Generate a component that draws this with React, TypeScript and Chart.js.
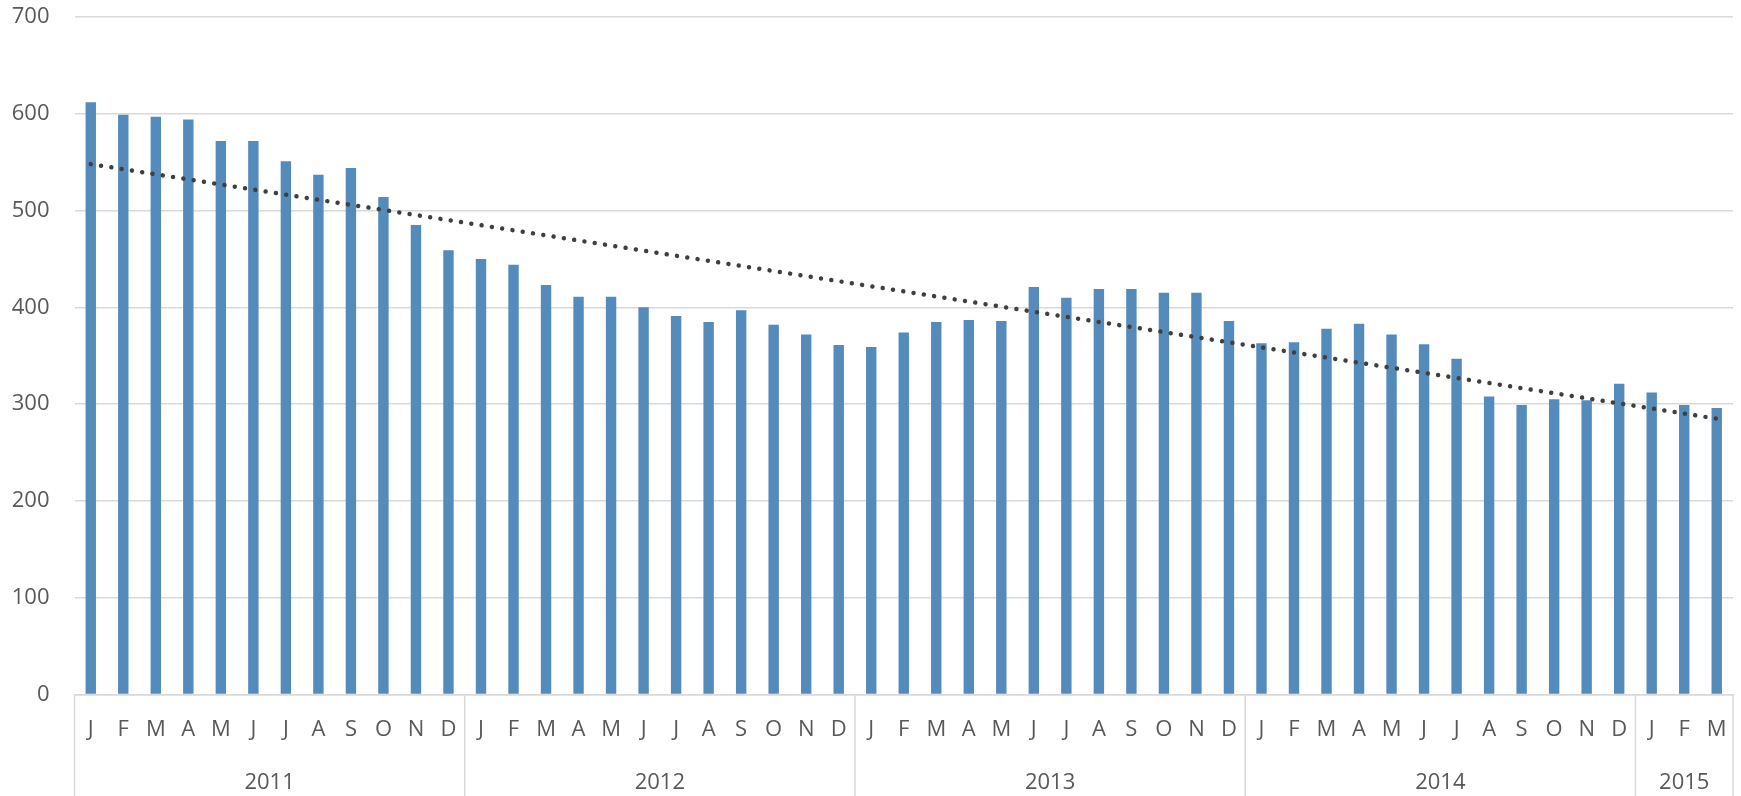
import React, { useEffect, useRef } from 'react';
import { Chart, registerables } from 'chart.js';

Chart.register(...registerables);

const years = ['2011', '2012', '2013', '2014', '2015'];
const monthLetters = ['J', 'F', 'M', 'A', 'M', 'J', 'J', 'A', 'S', 'O', 'N', 'D'];

const values2011 = [612, 599, 597, 594, 572, 572, 551, 537, 544, 514, 485, 459];
const values2012 = [450, 444, 423, 411, 411, 400, 391, 385, 397, 382, 372, 361];
const values2013 = [359, 374, 385, 387, 386, 421, 410, 419, 419, 415, 415, 386];
const values2014 = [363, 364, 378, 383, 372, 362, 347, 308, 299, 305, 304, 321];
const values2015 = [312, 299, 296];

const valuesByYear = [values2011, values2012, values2013, values2014, values2015];

// Linear trendline end values (first and last month)
const trendStart = 548;
const trendEnd = 285;

const yMin = 0;
const yMax = 700;
const yStep = 100;

const labels = valuesByYear.flatMap((v) => monthLetters.slice(0, v.length));
const values = valuesByYear.flat();
const trend = values.map((_, i) =>
  i === 0 ? trendStart : i === values.length - 1 ? trendEnd : null
);

const TEXT = '#595959';
const GRID = '#d9d9d9';
const FONT = '"Open Sans", "DejaVu Sans", sans-serif';

const yearAxisPlugin = {
  id: 'yearAxis',
  afterDraw(chart: any) {
    const x = chart.scales.x;
    const ctx = chart.ctx;
    ctx.save();
    ctx.strokeStyle = GRID;
    ctx.lineWidth = 1.5;
    const top = x.top;
    const bottom = chart.height;
    const edges: number[] = [0];
    let acc = 0;
    valuesByYear.forEach((v) => {
      acc += v.length;
      edges.push(acc);
    });
    edges.forEach((e) => {
      const px = x.getPixelForValue(e - 0.5);
      ctx.beginPath();
      ctx.moveTo(px, top);
      ctx.lineTo(px, bottom);
      ctx.stroke();
    });
    ctx.fillStyle = TEXT;
    ctx.font = '22px ' + FONT;
    ctx.textAlign = 'center';
    ctx.textBaseline = 'middle';
    years.forEach((yr, k) => {
      const c = x.getPixelForValue((edges[k] + edges[k + 1]) / 2 - 0.5);
      ctx.fillText(yr, c, top + 88);
    });
    ctx.restore();
  },
};

export default function App() {
  const ref = useRef<HTMLCanvasElement>(null);

  useEffect(() => {
    if (!ref.current) return;
    const chart = new Chart(ref.current, {
      type: 'bar',
      data: {
        labels,
        datasets: [
          {
            type: 'line',
            label: 'Trend',
            data: trend,
            borderColor: '#3f3f3f',
            borderWidth: 4.5,
            borderDash: [0.01, 10.4],
            borderCapStyle: 'round',
            pointRadius: 0,
            spanGaps: true,
            fill: false,
            tension: 0,
            order: 0,
          } as any,
          {
            type: 'bar',
            label: 'Values',
            data: values,
            backgroundColor: '#548bbb',
            borderWidth: 0,
            barPercentage: 0.32,
            categoryPercentage: 1,
            order: 1,
          },
        ],
      },
      options: {
        animation: false,
        responsive: true,
        maintainAspectRatio: false,
        layout: { padding: { top: 17, right: 8, bottom: 0, left: 0 } },
        plugins: {
          legend: { display: false },
          tooltip: { enabled: false },
          title: { display: false },
        },
        scales: {
          x: {
            type: 'category',
            grid: { display: false, drawTicks: false },
            border: { display: true, color: GRID, width: 1.5 },
            ticks: {
              autoSkip: false,
              maxRotation: 0,
              minRotation: 0,
              color: TEXT,
              font: { family: FONT, size: 22 },
              padding: 22,
            },
            afterFit(scale: any) {
              scale.height = 101.5;
              scale.paddingLeft = 0;
              scale.paddingRight = 0;
            },
          },
          y: {
            min: yMin,
            max: yMax,
            grid: { color: GRID, lineWidth: 1.5, drawTicks: false },
            border: { display: false },
            ticks: {
              stepSize: yStep,
              color: TEXT,
              font: { family: FONT, size: 22 },
              padding: 25,
            },
            afterFit(scale: any) {
              scale.width = 74.5;
              scale.paddingTop = 0;
              scale.paddingBottom = 0;
            },
          },
        },
      },
      plugins: [yearAxisPlugin],
    });
    return () => chart.destroy();
  }, []);

  return (
    <div
      style={{
        position: 'fixed',
        left: 0,
        top: 0,
        width: '1741px',
        height: '796px',
        background: '#ffffff',
      }}
    >
      <canvas ref={ref} />
    </div>
  );
}
